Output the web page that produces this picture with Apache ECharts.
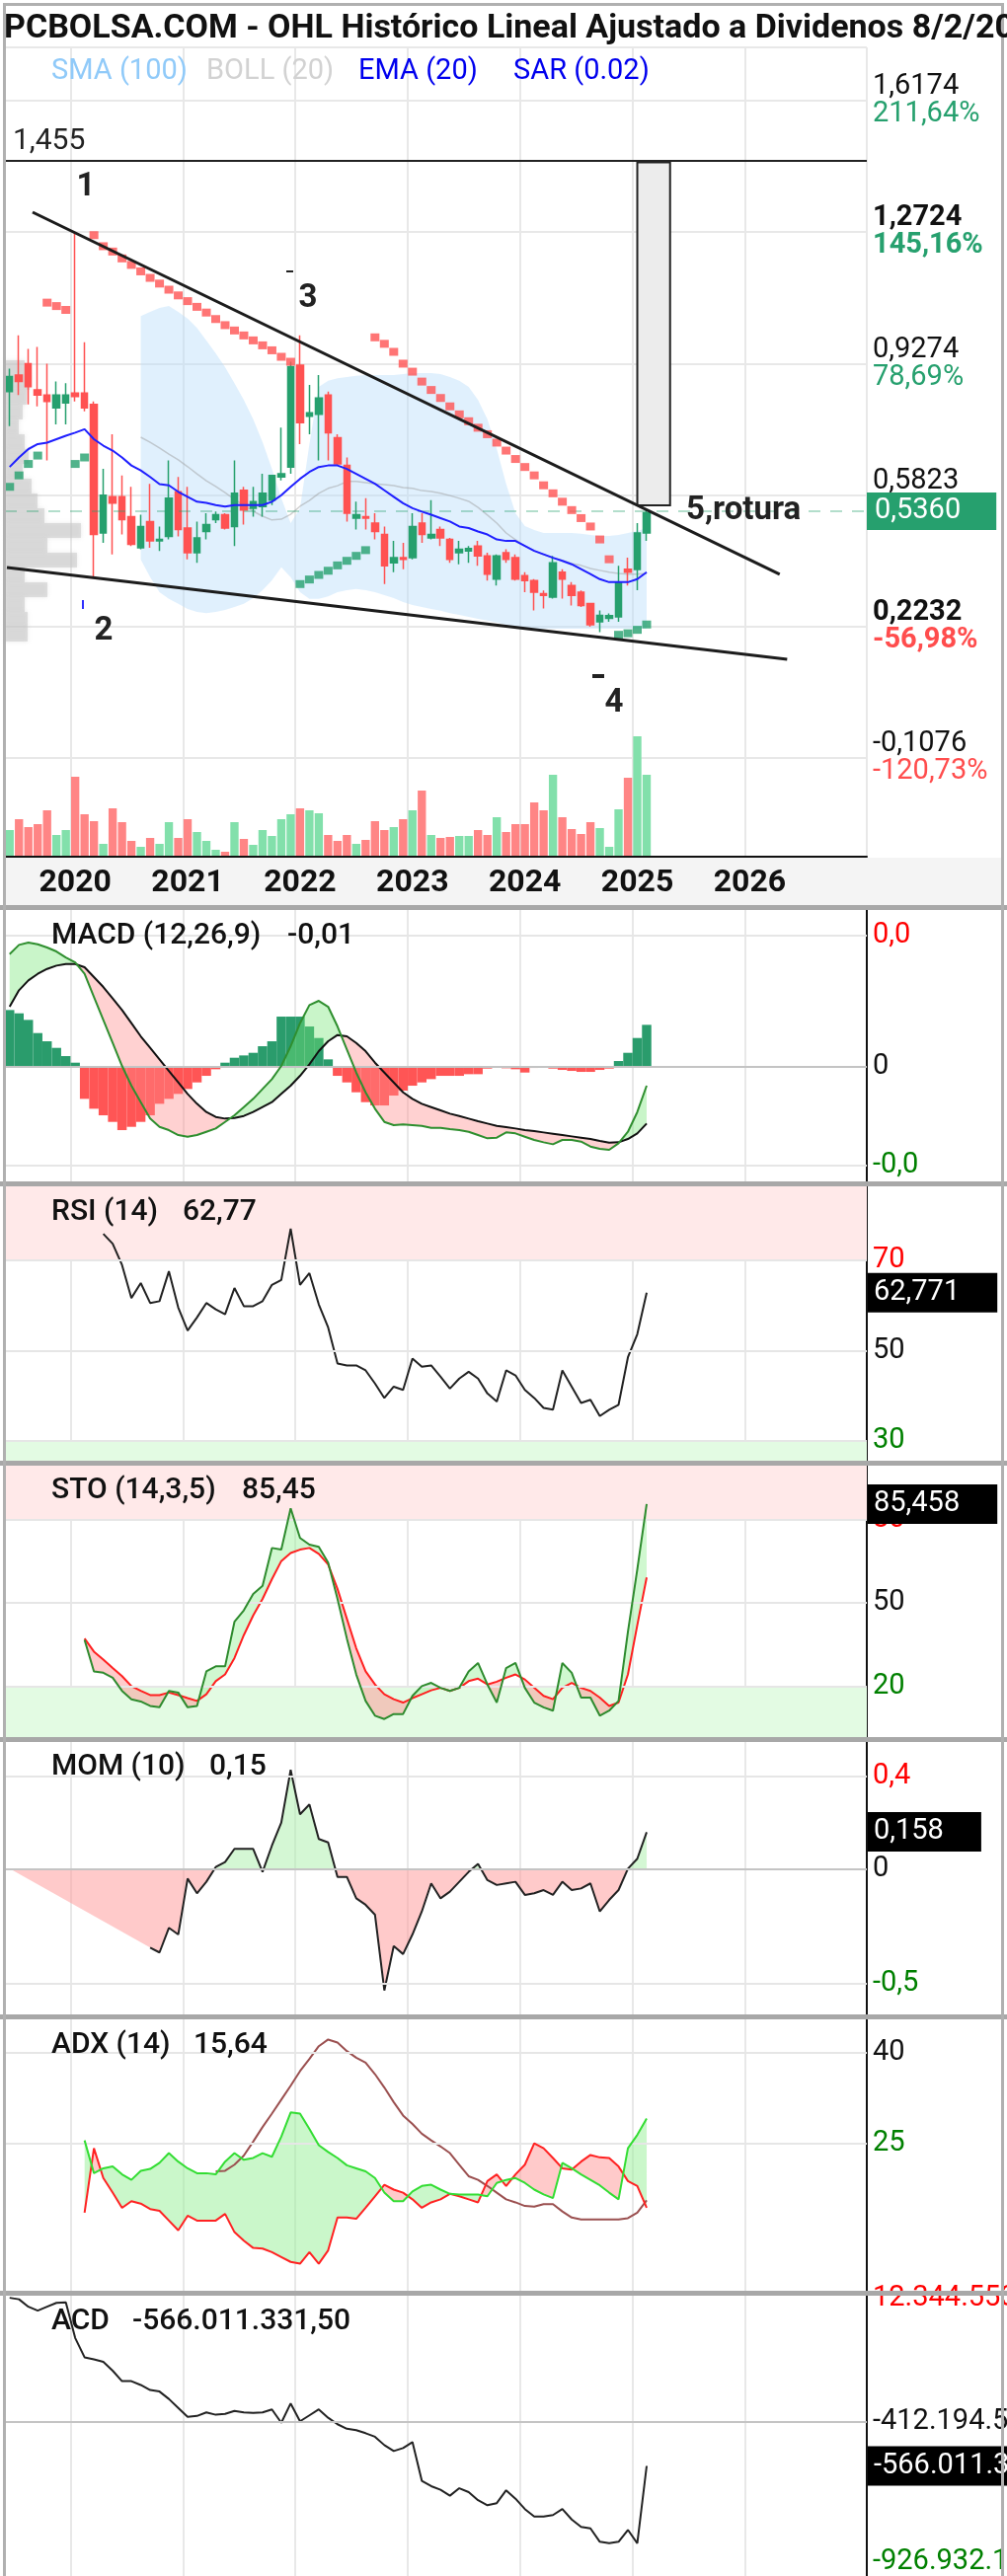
<!DOCTYPE html>
<html>
<head>
<meta charset="utf-8">
<title>OHL Histórico Lineal</title>
<script src="https://cdn.jsdelivr.net/npm/echarts@6.0.0/dist/echarts.min.js"></script>
<style>
html, body { margin: 0; padding: 0; background: #fff; }
#chart { width: 1020px; height: 2610px; }
</style>
</head>
<body>
<div id="chart"></div>
<script>
var FONT = 'Roboto, "Noto Sans", sans-serif';
var UP = '#26a06e', DOWN = '#ff5252';

// monthly categories, Jun 2019 .. Jan 2027
var months = [];
for (var k = 0; k < 92; k++) {
    var yy = 2019 + Math.floor((5 + k) / 12), mm = (5 + k) % 12 + 1;
    months.push(yy + '-' + (mm < 10 ? '0' + mm : mm));
}
function pad(n, arr) {
    var out = [];
    for (var i = 0; i < n; i++) out.push(null);
    return out.concat(arr);
}

// ---- price (monthly OHLC, Jun 2019 .. Feb 2025)
var opens = [0.854,0.897,0.927,0.858,0.845,0.811,0.824,0.850,0.850,0.820, 0.483,0.578,0.578,0.526,0.444,0.513,0.462,0.474,0.591,0.496,
    0.431,0.487,0.518,0.531,0.500,0.595,0.548,0.552,0.569,0.630, 0.656,0.923,0.789,0.794,0.845,0.733,0.660,0.522,0.526,0.509,
    0.479,0.405,0.418,0.418,0.509,0.470,0.492,0.466,0.431,0.436, 0.449,0.423,0.362,0.431,0.418,0.371,0.358,0.324,0.315,0.380,
    0.345,0.328,0.298,0.250,0.259,0.263,0.388,0.387,0.483];
var highs = [0.914,1.001,0.966,0.971,0.927,0.880,0.876,1.2724,0.983,0.828, 0.651,0.742,0.634,0.604,0.531,0.612,0.500,0.673,0.630,0.604,
    0.513,0.535,0.539,0.535,0.673,0.604,0.604,0.638,0.634,0.759, 0.932,1.001,0.871,0.897,0.854,0.742,0.681,0.565,0.574,0.535,
    0.500,0.462,0.457,0.535,0.535,0.569,0.500,0.470,0.462,0.449, 0.462,0.431,0.427,0.440,0.427,0.380,0.362,0.332,0.423,0.388,
    0.354,0.332,0.300,0.280,0.272,0.397,0.418,0.509,0.543];
var lows = [0.763,0.845,0.820,0.815,0.673,0.768,0.768,0.828,0.802,0.367, 0.457,0.427,0.479,0.449,0.440,0.444,0.436,0.466,0.474,0.414,
    0.405,0.466,0.509,0.492,0.449,0.505,0.526,0.526,0.556,0.621, 0.638,0.716,0.742,0.673,0.673,0.660,0.513,0.492,0.492,0.466,
    0.349,0.380,0.388,0.414,0.457,0.466,0.449,0.405,0.401,0.405, 0.397,0.358,0.345,0.405,0.358,0.328,0.280,0.285,0.311,0.311,
    0.293,0.289,0.237,0.2232,0.250,0.250,0.345,0.333,0.462];
var closes = [0.893,0.880,0.867,0.845,0.828,0.845,0.845,0.841,0.811,0.479, 0.582,0.561,0.518,0.453,0.500,0.462,0.466,0.574,0.492,0.431,
    0.470,0.505,0.531,0.496,0.587,0.543,0.565,0.587,0.634,0.638, 0.919,0.772,0.798,0.837,0.746,0.664,0.535,0.531,0.522,0.487,
    0.397,0.418,0.414,0.500,0.479,0.479,0.470,0.414,0.440,0.442, 0.423,0.375,0.423,0.414,0.362,0.358,0.328,0.319,0.405,0.362,
    0.319,0.293,0.242,0.267,0.266,0.354,0.380,0.483,0.536];
var volumes = [27,38,30,33,47,22,27,81,43,36, 13,49,35,16,10,19,13,35,19,38, 25,16,7,5,35,18,12,27,21,38,
    43,49,47,44,22,16,22,13,17,36, 27,30,38,47,67,22,19,20,21,21, 27,22,40,25,33,33,55,47,83,40, 28,23,35,29,10,48,80,122,83];
var sar = [0.604,0.634,0.664,0.686,1.087,1.078,1.068,0.664,0.681,
    1.264,1.235,1.221,1.203,1.186,1.169,1.152,1.137,1.121,1.106,1.091,1.076,1.061,1.044,1.028,1.014,1.001,0.988,0.975,0.962,0.945,0.932,
    0.349,0.361,0.373,0.384,0.398,0.410,0.423,0.438,
    0.996,0.979,0.958,0.927,0.906,0.880,0.858,0.837,0.815,0.794,0.776,0.759,0.742,0.720,0.699,0.677,0.656,0.634,0.608,0.587,0.565,0.543,0.522,0.500,0.466,0.414,
    0.216,0.220,0.229,0.243];
var ema20 = [0.656,0.681,0.703,0.716,0.720,0.729,0.738,0.746,0.755,0.729, 0.712,0.699,0.681,0.660,0.647,0.630,0.611,0.608,0.591,0.578,
    0.565,0.562,0.556,0.552,0.556,0.556,0.556,0.556,0.565,0.582, 0.604,0.625,0.643,0.656,0.660,0.660,0.651,0.638,0.625,0.612,
    0.595,0.578,0.561,0.548,0.539,0.531,0.522,0.513,0.500,0.496, 0.487,0.479,0.466,0.462,0.462,0.449,0.436,0.427,0.418,0.410,
    0.401,0.388,0.375,0.362,0.354,0.354,0.354,0.362,0.380];
var bandUp = pad(14, [1.052,1.063,1.073,1.078,1.063,1.045,1.021,0.988,0.954,0.918, 0.876,0.832,0.781,0.721,0.651,0.574,0.509,0.548,0.716,0.866,
    0.882,0.889,0.892,0.895,0.897,0.897,0.897,0.897,0.900,0.902, 0.902,0.902,0.900,0.892,0.882,0.866,0.832,0.781,0.703,0.612,
    0.535,0.501,0.491,0.483,0.483,0.483,0.483,0.481,0.478,0.475, 0.475,0.478,0.483,0.488,0.496]);
var bandLow = pad(14, [0.413,0.367,0.328,0.310,0.297,0.284,0.276,0.273,0.276,0.281, 0.289,0.297,0.312,0.333,0.359,0.393,0.367,0.328,0.310,0.310,
    0.317,0.328,0.333,0.336,0.333,0.328,0.320,0.312,0.302,0.294, 0.289,0.284,0.279,0.273,0.268,0.263,0.258,0.253,0.248,0.242,
    0.237,0.235,0.232,0.232,0.232,0.232,0.232,0.232,0.232,0.232, 0.232,0.232,0.232,0.232,0.232]);
var bollMid = pad(14, [0.734,0.721,0.706,0.690,0.675,0.657,0.638,0.620,0.605,0.589, 0.571,0.556,0.540,0.527,0.517,0.519,0.532,0.553,0.568,0.587,
    0.600,0.607,0.618,0.618,0.615,0.612,0.610,0.607,0.602,0.600, 0.594,0.592,0.587,0.581,0.574,0.566,0.550,0.530,0.509,0.483,
    0.465,0.449,0.436,0.426,0.418,0.411,0.403,0.398,0.390,0.385, 0.380,0.377,0.375,0.375,0.377]);
var profileRows = [20,25,22,18,14,20,24,18,27,33,40,77,43,73,20,43,20,23,23];

var priceTicks = [-0.1076, 0.2232, 0.5823, 0.9274, 1.2724, 1.6174];
var priceTickPct = ['-120,73%', '-56,98%', '', '78,69%', '145,16%', '211,64%'];
var priceTickBold = [false, true, false, false, true, false];
var lastPrice = 0.5360;

// drawn annotations (month index on a 0..92 scale, price)
var upperTrend = [[2.95, 1.3242], [82.7, 0.3744]];
var lowerTrend = [[0.21, 0.3925], [83.5, 0.1518]];
var targetLine = 1.455;
var targetBox = [[67.5, 1.455], [71.0, 0.5556]];

// ---- MACD (12,26,9)
var macd = [0.0342,0.0370,0.0377,0.0372,0.0362,0.0350,0.0332,0.0317,0.0282,0.0212, 0.0142,0.0072,0.0002,-0.0058,-0.0108,-0.0158,-0.0183,-0.0193,-0.0208,-0.0213,
    -0.0208,-0.0198,-0.0188,-0.0168,-0.0148,-0.0123,-0.0098,-0.0068,-0.0038,0.0002, 0.0062,0.0132,0.0187,0.0200,0.0182,0.0122,0.0052,-0.0018,-0.0078,-0.0128,
    -0.0168,-0.0178,-0.0176,-0.0178,-0.0180,-0.0186,-0.0186,-0.0190,-0.0193,-0.0198, -0.0208,-0.0218,-0.0216,-0.0200,-0.0203,-0.0213,-0.0223,-0.0230,-0.0236,-0.0223,
    -0.0223,-0.0228,-0.0243,-0.0250,-0.0253,-0.0233,-0.0198,-0.0138,-0.0058];
var macdSignal = [0.0182,0.0232,0.0262,0.0282,0.0297,0.0307,0.0312,0.0312,0.0302,0.0272, 0.0242,0.0207,0.0172,0.0132,0.0092,0.0057,0.0022,-0.0013,-0.0048,-0.0083,
    -0.0113,-0.0138,-0.0153,-0.0158,-0.0156,-0.0150,-0.0138,-0.0123,-0.0108,-0.0083, -0.0058,-0.0028,0.0007,0.0047,0.0077,0.0096,0.0092,0.0072,0.0047,0.0012,
    -0.0018,-0.0048,-0.0078,-0.0098,-0.0113,-0.0123,-0.0133,-0.0143,-0.0150,-0.0158, -0.0166,-0.0173,-0.0180,-0.0184,-0.0188,-0.0193,-0.0196,-0.0200,-0.0204,-0.0208,
    -0.0212,-0.0216,-0.0220,-0.0226,-0.0231,-0.0230,-0.0220,-0.0203,-0.0173];
var macdHist = [0.0172,0.0162,0.0142,0.0102,0.0077,0.0057,0.0032,0.0012,-0.0098,-0.0128, -0.0148,-0.0168,-0.0193,-0.0183,-0.0168,-0.0148,-0.0113,-0.0098,-0.0083,-0.0068,
    -0.0048,-0.0028,-0.0008,0.0012,0.0027,0.0034,0.0042,0.0062,0.0077,0.0152, 0.0152,0.0152,0.0122,0.0087,0.0022,-0.0028,-0.0048,-0.0078,-0.0108,-0.0118,
    -0.0118,-0.0088,-0.0073,-0.0058,-0.0048,-0.0038,-0.0028,-0.0028,-0.0028,-0.0023, -0.0023,-0.0006,-0.0003,-0.0005,-0.0008,-0.0018,-0.0004,0.0000,-0.0006,-0.0010,
    -0.0013,-0.0016,-0.0016,-0.0010,-0.0006,0.0017,0.0042,0.0087,0.0127];
var macdLevels = [0.0377, 0, -0.0253], macdLevelText = ['0,0', '0', '-0,0'];

// ---- RSI (14)
var rsi = pad(10, [75.8,73.6,68.9,61.6,64.9,60.5,60.9,67.5,59.5,54.4, 57.3,60.5,59.1,58.0,63.8,59.8,59.8,60.9,64.5,65.6,
    76.9,64.5,67.1,60.2,55.1,47.1,46.7,46.7,45.6,42.7, 39.5,42.0,41.3,48.2,46.4,46.7,44.2,41.6,43.8,45.3,
    43.8,40.5,38.7,45.6,44.5,41.3,39.5,37.3,36.9,45.6, 42.0,38.4,39.1,35.5,36.9,38.0,48.5,53.6,62.77]);
var rsiLevels = [70, 50, 30], rsiLast = 62.771;

// ---- STO (14,3,5)
var stoK = pad(8, [36.7,25.4,24.9,23.1,18.4,15.4,14.6,13.0,12.5,18.4, 17.8,12.5,13.0,25.4,27.2,27.2,43.2,47.3,53.2,56.1,
    69.7,69.1,83.9,73.3,70.9,70.1,64.4,51.4,37.2,24.3, 14.8,9.5,8.3,10.1,10.1,16.6,20.1,21.3,19.5,18.4,
    19.5,25.4,28.4,20.7,14.2,26.6,28.4,19.5,14.2,12.5, 11.3,28.4,24.9,16.0,16.0,9.5,11.3,14.8,39.6,62.0,85.45]);
var stoD = pad(8, [37.2,32.5,29.6,26.6,23.7,20.1,18.4,16.9,16.9,17.8, 16.9,15.8,14.8,17.2,21.9,24.3,30.2,38.4,45.5,51.4,
    58.5,65.0,67.9,69.1,69.7,67.6,63.8,55.0,44.3,33.7, 25.4,20.7,17.2,15.4,14.2,15.8,17.2,18.6,19.5,18.4,
    19.5,21.9,22.8,20.7,21.7,23.1,24.3,22.5,19.5,16.6, 15.4,19.5,21.3,19.5,18.4,16.0,13.0,14.2,24.3,42.0,59.1]);
var stoLevels = [80, 50, 20], stoLast = 85.458;

// ---- MOM (10)
var mom = pad(15, [-0.343,-0.364,-0.257,-0.286,-0.043,-0.107,-0.057,0.007,0.029,0.086,
    0.086,0.086,-0.014,0.100,0.200,0.429,0.236,0.279,0.129,0.114, -0.036,-0.036,-0.129,-0.157,-0.200,-0.529,-0.336,-0.371,-0.286,-0.186,
    -0.064,-0.129,-0.100,-0.057,-0.014,0.021,-0.050,-0.071,-0.064,-0.057, -0.114,-0.107,-0.093,-0.114,-0.057,-0.093,-0.086,-0.064,-0.186,-0.136,
    -0.093,0.000,0.043,0.158]);
var momLevels = [0.4, 0, -0.5], momLast = 0.158;

// ---- ADX (14)
var diPlus = pad(8, [25.5,20.1,20.9,21.2,19.9,19.0,20.5,20.8,21.8,23.4, 22.0,20.9,20.1,20.1,19.9,22.0,23.4,22.3,22.6,23.4,
    22.8,26.1,30.1,29.9,27.4,24.7,23.6,22.6,21.4,20.9, 20.4,19.3,16.9,15.5,15.5,17.1,18.0,18.2,17.4,16.7,
    16.6,16.6,16.6,16.3,18.5,19.0,19.3,18.5,17.4,16.6, 16.0,21.8,20.9,19.9,19.0,18.1,16.9,15.8,24.2,26.4,29.1]);
var diMinus = pad(8, [13.6,24.2,19.3,16.9,14.4,15.5,15.1,14.2,13.9,12.3, 10.7,13.1,12.3,12.3,12.3,13.4,10.4,9.0,7.8,7.7,
    7.1,6.3,5.5,5.2,7.1,5.2,7.4,12.8,12.8,12.6, 14.4,16.3,18.2,17.4,16.9,15.8,14.4,15.3,15.8,16.7,
    16.3,15.8,15.3,18.8,19.9,18.0,19.9,21.5,25.0,24.2, 22.6,20.9,20.7,22.0,23.1,22.7,22.6,21.2,18.8,18.0,14.4]);
var adx = pad(22, [20.4,20.5,21.5,23.0,25.3,27.7,29.9,32.2,34.5,36.9, 38.9,41.0,42.1,41.6,40.2,39.1,38.3,36.4,34.2,31.8,
    29.6,28.2,26.6,25.5,24.5,23.4,21.5,19.6,19.0,18.0, 16.9,15.8,15.3,14.7,14.6,15.0,15.0,13.8,12.8,12.5,
    12.5,12.5,12.5,12.5,12.7,13.6,15.64]);
var adxLevels = [40, 25];

// ---- ACD (millions)
var acd = [13.2,8.1,-17.6,-30.9,-17.6,-4.2,-2.2,-125.2,-191.8,-199.0, -207.2,-237.9,-273.8,-273.8,-287.2,-304.6,-309.7,-335.3,-366.1,-396.8,
    -393.8,-381.4,-389.6,-386.6,-376.3,-381.4,-383.5,-381.4,-371.2,-417.3, -350.7,-412.2,-391.7,-371.2,-399.9,-422.4,-437.8,-442.9,-453.2,-465.5,
    -494.2,-514.7,-504.4,-483.9,-617.2,-635.6,-647.9,-668.4,-642.8,-656.1, -683.8,-701.2,-694.1,-650.0,-678.7,-714.6,-740.2,-740.2,-735.1,-714.6,
    -750.4,-776.1,-781.2,-827.3,-832.4,-827.3,-786.3,-832.4,-566.011];
var acdLevels = [12.344, -412.194, -895], acdLevelText = ['12.344.553', '-412.194.519', '-926.932.170'];
var acdLast = -566.011;

// ---------------------------------------------------------------
function yearLine(idx, val) {
    return val.slice(5) === '01' && +val.slice(0, 4) <= 2026;
}

// filled area between two series, colour by which one is on top
function fillSeries(xi, yi, up, lo, posColor, negColor, z) {
    return {
        type: 'custom', xAxisIndex: xi, yAxisIndex: yi, z: z, silent: true, clip: true,
        data: [[0, 0]],
        renderItem: function (params, api) {
            var pts = [];
            for (var i = 0; i < up.length; i++) {
                var b = typeof lo === 'number' ? lo : lo[i];
                if (up[i] == null || b == null) continue;
                pts.push({a: up[i], b: b, pa: api.coord([i, up[i]]), pb: api.coord([i, b])});
            }
            var children = [], top = [], bot = [], sign = 0;
            function flush() {
                if (top.length > 1) {
                    children.push({
                        type: 'polygon',
                        shape: {points: top.concat(bot.slice().reverse())},
                        style: {fill: sign < 0 ? negColor : posColor}
                    });
                }
                top = []; bot = [];
            }
            for (var k = 0; k < pts.length; k++) {
                var p = pts[k], d = p.a - p.b, s = d > 0 ? 1 : (d < 0 ? -1 : 0);
                if (k > 0 && s !== 0 && sign !== 0 && s !== sign) {
                    var q = pts[k - 1], dq = q.a - q.b, t = dq / (dq - d);
                    var cx = q.pa[0] + t * (p.pa[0] - q.pa[0]);
                    var cy = q.pa[1] + t * (p.pa[1] - q.pa[1]);
                    top.push([cx, cy]); bot.push([cx, cy]);
                    flush();
                    top.push([cx, cy]); bot.push([cx, cy]);
                }
                if (s !== 0) sign = s;
                top.push(p.pa); bot.push(p.pb);
            }
            flush();
            return {type: 'group', children: children};
        }
    };
}

function levelSeries(xi, yi, values, texts, colors, lineColors, zones) {
    var s = {
        type: 'line', xAxisIndex: xi, yAxisIndex: yi, data: [], z: 1, silent: true,
        markLine: {
            silent: true, symbol: ['none', 'none'], animation: false,
            data: values.map(function (v, k) {
                return {
                    yAxis: v,
                    lineStyle: {color: lineColors[k], width: 2, type: 'solid'},
                    label: {show: true, position: 'end', distance: 6, formatter: texts[k], color: colors[k],
                        fontSize: 29, fontFamily: FONT}
                };
            })
        }
    };
    if (zones) s.markArea = {silent: true, data: zones};
    return s;
}

function lastBox(xi, yi, v, text) {
    return {
        type: 'line', xAxisIndex: xi, yAxisIndex: yi, data: [], z: 10, silent: true,
        markLine: {
            silent: true, symbol: ['none', 'none'], animation: false,
            data: [{
                yAxis: v,
                lineStyle: {color: 'rgba(0,0,0,0)', width: 0},
                label: {show: true, position: 'end', distance: 1, formatter: text, color: '#fff',
                    backgroundColor: '#000', padding: [6, 38, 6, 6], fontSize: 29, lineHeight: 28, fontFamily: FONT}
            }]
        }
    };
}

function lineS(xi, yi, data, color, width, z) {
    return {type: 'line', xAxisIndex: xi, yAxisIndex: yi, data: data, z: z || 4, silent: true,
        showSymbol: false, symbol: 'none', lineStyle: {color: color, width: width || 2}};
}

function fmtNum(v, d) { return v.toFixed(d).replace('.', ','); }

// ---------------------------------------------------------------
var GL = 5, GW = 873;
var panels = [
    {top: 922, height: 275, min: -0.03489, max: 0.04761},   // MACD
    {top: 1202, height: 278, min: 25.63, max: 86.29},       // RSI
    {top: 1485, height: 275, min: 1.82, max: 99.24},        // STO
    {top: 1765, height: 276, min: -0.633, max: 0.550},      // MOM
    {top: 2046, height: 275, min: 0.75, max: 45.42},        // ADX
    {top: 2326, height: 314, min: -945.1, max: 20.46}       // ACD
];

var grids = [
    {left: GL, width: GW, top: 48, height: 853.5},   // price
    {left: GL, width: GW, top: 740, height: 128},    // volume
    {left: GL, width: 100, top: 365, height: 285}    // volume profile
];
panels.forEach(function (p) { grids.push({left: GL, width: GW, top: p.top, height: p.height}); });

var catAxis = function (gi, extra) {
    var a = {
        type: 'category', gridIndex: gi, data: months, boundaryGap: true,
        axisLine: {show: false}, axisTick: {show: false}, axisLabel: {show: false},
        splitLine: {show: true, interval: yearLine, lineStyle: {color: '#e8e8e8', width: 2}}
    };
    for (var key in extra) a[key] = extra[key];
    return a;
};

var xAxes = [
    catAxis(0),
    {type: 'value', gridIndex: 0, min: 0, max: 92, show: false, position: 'top'},
    catAxis(1, {
        z: 20,
        splitLine: {show: false},
        axisLine: {show: true, lineStyle: {color: '#111', width: 2}},
        axisLabel: {show: true, interval: yearLine, formatter: function (v) { return v.slice(0, 4); },
            fontSize: 32, fontWeight: 'bold', color: '#111', fontFamily: FONT, margin: 11, lineHeight: 32}
    }),
    {type: 'value', gridIndex: 2, min: 0, max: 100, show: false}
];
for (var g = 0; g < panels.length; g++) xAxes.push(catAxis(3 + g));

var yAxes = [
    {
        type: 'value', gridIndex: 0, position: 'right', min: -0.4526, max: 1.7564, interval: 0.345,
        axisLine: {show: true, lineStyle: {color: '#111', width: 2}}, axisTick: {show: false},
        splitLine: {show: true, lineStyle: {color: '#e8e8e8', width: 2}},
        axisLabel: {
            show: true, margin: 6, fontFamily: FONT,
            formatter: function (value) {
                for (var k = 0; k < priceTicks.length; k++) {
                    if (Math.abs(priceTicks[k] - value) < 0.02) {
                        var b = priceTickBold[k] ? 'b' : '';
                        var pct = priceTickPct[k];
                        var cls = pct.charAt(0) === '-' ? 'r' : 'g';
                        return '{v' + b + '|' + fmtNum(priceTicks[k], 4) + '}\n' +
                            (pct ? '{' + cls + b + '|' + pct + '}' : '{g| }');
                    }
                }
                return '';
            },
            rich: {
                v: {fontSize: 29, color: '#111', lineHeight: 28, fontFamily: FONT},
                vb: {fontSize: 29, color: '#111', lineHeight: 28, fontWeight: 'bold', fontFamily: FONT},
                g: {fontSize: 29, color: UP, lineHeight: 28, fontFamily: FONT},
                gb: {fontSize: 29, color: UP, lineHeight: 28, fontWeight: 'bold', fontFamily: FONT},
                r: {fontSize: 29, color: '#ff4d4d', lineHeight: 28, fontFamily: FONT},
                rb: {fontSize: 29, color: '#ff4d4d', lineHeight: 28, fontWeight: 'bold', fontFamily: FONT}
            }
        }
    },
    {type: 'value', gridIndex: 1, min: 0, max: 128, show: false},
    {type: 'category', gridIndex: 2, inverse: true, show: false, data: profileRows.map(function (v, i) { return 'r' + i; })}
];
panels.forEach(function (p, g) {
    yAxes.push({
        type: 'value', gridIndex: 3 + g, position: 'right', min: p.min, max: p.max,
        axisLine: {show: true, lineStyle: {color: '#111', width: 2}},
        axisTick: {show: false}, axisLabel: {show: false}, splitLine: {show: false}
    });
});

// ---------------------------------------------------------------
var candleData = opens.map(function (o, i) { return [o, closes[i], lows[i], highs[i]]; });
var LIGHT = '#e6e6e6', ZERO = '#c4c4c4';

var series = [
    // Bollinger-style envelope
    fillSeries(0, 0, bandUp, bandLow, 'rgba(187,222,251,0.45)', 'rgba(187,222,251,0.45)', 1),
    lineS(0, 0, bollMid, 'rgba(150,150,150,0.45)', 1.5, 2),
    // volume by price
    {type: 'bar', xAxisIndex: 3, yAxisIndex: 2, data: profileRows, barCategoryGap: '0%', z: 1, silent: true,
        itemStyle: {color: 'rgba(200,200,200,0.5)', shadowBlur: 4, shadowColor: 'rgba(180,180,180,0.6)'}},
    // volume
    {type: 'bar', xAxisIndex: 2, yAxisIndex: 1, z: 2, silent: true, barCategoryGap: '12%',
        data: volumes.map(function (v, i) {
            return {value: v, itemStyle: {color: closes[i] >= opens[i] ? '#82e0ab' : '#ff8585'}};
        })},
    // candles
    {type: 'candlestick', xAxisIndex: 0, yAxisIndex: 0, z: 4, barWidth: 7, silent: true, data: candleData,
        itemStyle: {color: UP, color0: DOWN, borderColor: UP, borderColor0: DOWN, borderWidth: 1.5},
        markLine: {
            silent: true, symbol: ['none', 'none'], animation: false,
            data: [{
                yAxis: lastPrice,
                lineStyle: {color: 'rgba(38,160,110,0.35)', type: [12, 10], width: 2},
                label: {show: true, position: 'end', distance: 0, formatter: fmtNum(lastPrice, 4), color: '#fff',
                    backgroundColor: UP, padding: [5, 36, 5, 8], fontSize: 29, lineHeight: 28, fontFamily: FONT}
            }]
        }},
    lineS(0, 0, ema20, '#1f1fff', 2, 5),
    {type: 'scatter', xAxisIndex: 0, yAxisIndex: 0, z: 6, silent: true, symbol: 'rect', symbolSize: [9, 8],
        data: sar.map(function (v, i) {
            return {value: [i, v], itemStyle: {color: v < closes[i] ? UP : DOWN}};
        })},
    // drawn trend lines, target line and box
    {type: 'line', xAxisIndex: 1, yAxisIndex: 0, z: 7, silent: true, data: upperTrend, symbol: 'none',
        lineStyle: {color: '#1c1c1c', width: 3},
        markLine: {
            silent: true, symbol: ['none', 'none'], animation: false,
            lineStyle: {color: '#222', width: 2, type: 'solid'},
            label: {show: true, position: 'insideStartTop', distance: [8, 4], formatter: '1,455',
                fontSize: 30, color: '#222', fontFamily: FONT},
            data: [{yAxis: targetLine}]
        }},
    {type: 'line', xAxisIndex: 1, yAxisIndex: 0, z: 7, silent: true, data: lowerTrend, symbol: 'none',
        lineStyle: {color: '#1c1c1c', width: 3},
        markArea: {
            silent: true,
            itemStyle: {color: '#ececec', borderColor: '#222', borderWidth: 2},
            data: [[{coord: targetBox[0]}, {coord: targetBox[1]}]]
        }},

    // MACD
    levelSeries(4, 3, macdLevels, macdLevelText, ['#ff0000', '#111', '#008000'], [LIGHT, ZERO, LIGHT]),
    {type: 'bar', xAxisIndex: 4, yAxisIndex: 3, z: 2, silent: true, barCategoryGap: '0%',
        data: macdHist.map(function (v) { return {value: v, itemStyle: {color: v >= 0 ? '#2a9c6c' : '#ff5555'}}; })},
    fillSeries(4, 3, macd, macdSignal, 'rgba(120,230,120,0.4)', 'rgba(255,140,140,0.4)', 3),
    lineS(4, 3, macdSignal, '#111', 2, 4),
    lineS(4, 3, macd, '#2f8f2f', 2, 5),

    // RSI
    levelSeries(5, 4, rsiLevels, ['70', '50', '30'], ['#ff0000', '#111', '#008000'], [LIGHT, LIGHT, LIGHT], [
        [{yAxis: 70, itemStyle: {color: '#ffe9e9'}}, {yAxis: 86.29}],
        [{yAxis: 25.63, itemStyle: {color: '#e3fbe3'}}, {yAxis: 30}]
    ]),
    lineS(5, 4, rsi, '#222', 2, 4),
    lastBox(5, 4, rsiLast, fmtNum(rsiLast, 3)),

    // STO
    levelSeries(6, 5, stoLevels, ['80', '50', '20'], ['#ff0000', '#111', '#008000'], [LIGHT, LIGHT, LIGHT], [
        [{yAxis: 80, itemStyle: {color: '#ffe9e9'}}, {yAxis: 99.24}],
        [{yAxis: 1.82, itemStyle: {color: '#e3fbe3'}}, {yAxis: 20}]
    ]),
    fillSeries(6, 5, stoK, stoD, 'rgba(150,240,150,0.45)', 'rgba(255,140,140,0.45)', 3),
    lineS(6, 5, stoD, '#ff2020', 2, 4),
    lineS(6, 5, stoK, '#2e8b2e', 2, 5),
    lastBox(6, 5, stoLast, fmtNum(stoLast, 3)),

    // MOM
    levelSeries(7, 6, momLevels, ['0,4', '0', '-0,5'], ['#ff0000', '#111', '#008000'], [LIGHT, ZERO, LIGHT]),
    fillSeries(7, 6, [0].concat(mom.slice(1)), 0, 'rgba(170,240,170,0.5)', 'rgba(255,150,150,0.5)', 3),
    lineS(7, 6, mom, '#222', 2, 4),
    lastBox(7, 6, momLast, fmtNum(momLast, 3)),

    // ADX
    levelSeries(8, 7, adxLevels, ['40', '25'], ['#111', '#008000'], [LIGHT, LIGHT]),
    fillSeries(8, 7, diPlus, diMinus, 'rgba(150,240,150,0.5)', 'rgba(255,150,150,0.5)', 3),
    lineS(8, 7, adx, '#9b5050', 2, 4),
    lineS(8, 7, diMinus, '#ff2222', 2, 5),
    lineS(8, 7, diPlus, '#33dd33', 2, 5),

    // ACD
    levelSeries(9, 8, acdLevels, acdLevelText, ['#ff0000', '#111', '#008000'], ['rgba(0,0,0,0)', ZERO, 'rgba(0,0,0,0)']),
    lineS(9, 8, acd, '#222', 2, 4),
    lastBox(9, 8, acdLast, '-566.011.331,50')
];

// ---------------------------------------------------------------
function txt(x, y, text, size, color, weight, align) {
    return {type: 'text', x: x, y: y, z: 30, silent: true,
        style: {text: text, fontSize: size, fontFamily: FONT, fontWeight: weight || 'normal', fill: color,
            align: align || 'left', verticalAlign: 'middle'}};
}
function box(x, y, w, h, color, z) {
    return {type: 'rect', shape: {x: x, y: y, width: w, height: h}, style: {fill: color}, z: z || 25, silent: true};
}

var graphics = [
    box(5, 869, 1011, 48, '#f4f4f4', 15),
    box(0, 917, 1020, 5, '#a8a8a8'),
    box(0, 1197, 1020, 5, '#a8a8a8'),
    box(0, 1480, 1020, 5, '#a8a8a8'),
    box(0, 1760, 1020, 5, '#a8a8a8'),
    box(0, 2041, 1020, 5, '#a8a8a8'),
    box(0, 2321, 1020, 5, '#a8a8a8'),
    box(3, 3, 1014, 3, '#b0b0b0'),
    box(3, 3, 3, 2607, '#b0b0b0'),
    box(1014, 3, 3, 2607, '#b0b0b0'),

    txt(4, 29, 'PCBOLSA.COM - OHL Histórico Lineal Ajustado a Dividenos 8/2/2025', 34, '#111', 'bold'),
    txt(52, 73, 'SMA (100)', 29, '#90caf9'),
    txt(209, 73, 'BOLL (20)', 29, '#d2d2d2'),
    txt(363, 73, 'EMA (20)', 29, '#0000ee'),
    txt(520, 73, 'SAR (0.02)', 29, '#0000ee'),

    txt(87, 190, '1', 33, '#222', 'bold', 'center'),
    txt(105, 640, '2', 33, '#222', 'bold', 'center'),
    txt(312, 303, '3', 33, '#222', 'bold', 'center'),
    txt(622, 713, '4', 33, '#222', 'bold', 'center'),
    txt(695, 518, '5,rotura', 33, '#222', 'bold'),
    box(290, 274, 7, 2, '#222'),
    box(600, 683, 12, 4, '#222'),
    box(83, 608, 2, 9, '#3030ff'),

    txt(52, 948, 'MACD (12,26,9)', 30, '#111', 500),
    txt(291, 948, '-0,01', 30, '#111', 500),
    txt(52, 1228, 'RSI (14)', 30, '#111', 500),
    txt(185, 1228, '62,77', 30, '#111', 500),
    txt(52, 1510, 'STO (14,3,5)', 30, '#111', 500),
    txt(245, 1510, '85,45', 30, '#111', 500),
    txt(52, 1790, 'MOM (10)', 30, '#111', 500),
    txt(212, 1790, '0,15', 30, '#111', 500),
    txt(52, 2072, 'ADX (14)', 30, '#111', 500),
    txt(196, 2072, '15,64', 30, '#111', 500),
    txt(52, 2352, 'ACD', 30, '#111', 500),
    txt(134, 2352, '-566.011.331,50', 30, '#111', 500)
];

var chart = echarts.init(document.getElementById('chart'), null, {renderer: 'canvas'});
chart.setOption({
    backgroundColor: '#fff',
    animation: false,
    grid: grids,
    xAxis: xAxes,
    yAxis: yAxes,
    series: series,
    graphic: graphics
});
</script>
</body>
</html>
